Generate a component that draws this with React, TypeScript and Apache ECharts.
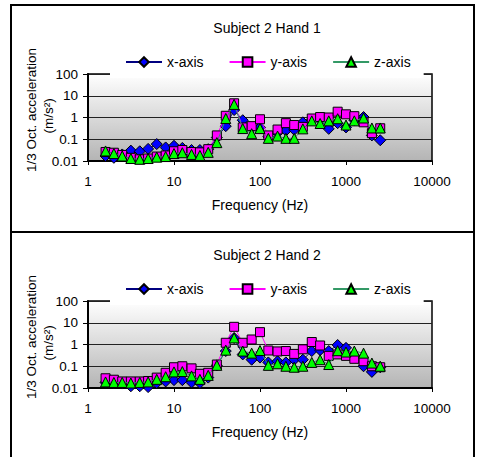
import React, { useEffect, useRef } from "react";
import * as echarts from "echarts";

const freqs = [1.6, 2, 2.5, 3.15, 4, 5, 6.3, 8, 10, 12.5, 16, 20, 25, 31.5, 40, 50, 63, 80, 100, 125, 160, 200, 250, 315, 400, 500, 630, 800, 1000, 1250, 1600, 2000, 2500];

const xTicks = [1, 10, 100, 1000, 10000];
const yTicks = [0.01, 0.1, 1, 10, 100];

const seriesNames = ["x-axis", "y-axis", "z-axis"];
const chartTitles = ["Subject 2 Hand 1", "Subject 2 Hand 2"];

const hand1X = [0.017, 0.014, 0.02, 0.03, 0.028, 0.036, 0.06, 0.042, 0.05, 0.04, 0.032, 0.032, 0.035, 0.12, 0.4, 2.2, 0.75, 0.35, 0.35, 0.13, 0.2, 0.25, 0.27, 0.6, 0.8, 0.8, 0.3, 0.55, 0.35, 0.75, 1.05, 0.15, 0.09];
const hand1Y = [0.026, 0.024, 0.019, 0.014, 0.012, 0.013, 0.016, 0.018, 0.028, 0.032, 0.026, 0.025, 0.035, 0.15, 1.2, 4.5, 0.35, 0.4, 0.83, 0.15, 0.28, 0.55, 0.45, 0.37, 0.9, 1.05, 1.0, 1.85, 1.4, 1.15, 0.6, 0.19, 0.32];
const hand1Z = [0.029, 0.022, 0.017, 0.013, 0.012, 0.013, 0.015, 0.016, 0.022, 0.024, 0.02, 0.018, 0.025, 0.07, 0.9, 4.0, 0.31, 0.18, 0.31, 0.11, 0.14, 0.11, 0.11, 0.3, 0.7, 0.53, 0.7, 0.88, 0.45, 0.7, 0.95, 0.33, 0.33];

const hand2X = [0.018, 0.017, 0.016, 0.012, 0.012, 0.011, 0.017, 0.02, 0.023, 0.023, 0.018, 0.017, 0.03, 0.11, 0.5, 2.0, 0.35, 0.2, 0.25, 0.15, 0.17, 0.15, 0.2, 0.2, 0.5, 0.55, 0.5, 0.95, 0.7, 0.3, 0.1, 0.055, 0.09];
const hand2Y = [0.028, 0.024, 0.02, 0.02, 0.02, 0.021, 0.03, 0.05, 0.09, 0.1, 0.08, 0.045, 0.05, 0.12, 1.2, 6.5, 1.2, 1.7, 3.7, 0.53, 0.48, 0.5, 0.37, 0.6, 1.3, 0.9, 0.3, 0.35, 0.3, 0.22, 0.17, 0.1, 0.09];
const hand2Z = [0.019, 0.018, 0.018, 0.017, 0.018, 0.019, 0.025, 0.033, 0.055, 0.057, 0.036, 0.025, 0.038, 0.11, 0.55, 2.0, 0.5, 0.4, 0.53, 0.11, 0.13, 0.1, 0.09, 0.1, 0.15, 0.2, 0.12, 0.52, 0.45, 0.5, 0.4, 0.14, 0.1];

const FONT = "'Liberation Sans', Arial, sans-serif";

const styles = [
  { symbol: "diamond", size: 11, line: "#000080", fill: "#0000ff" },
  { symbol: "rect", size: 9, line: "#ff00ff", fill: "#ff00ff" },
  { symbol: "triangle", size: 10, line: "#339966", fill: "#00ff00" },
];

const panels = [
  { offset: 0, data: [hand1X, hand1Y, hand1Z] },
  { offset: 227, data: [hand2X, hand2Y, hand2Z] },
];

export default function App() {
  const ref = useRef<HTMLDivElement>(null);
  useEffect(() => {
    if (!ref.current) return;
    const chart = echarts.init(ref.current, null, { renderer: "svg" });

    const grids: any[] = [];
    const xAxes: any[] = [];
    const yAxes: any[] = [];
    const series: any[] = [];
    const legends: any[] = [];
    const graphics: any[] = [];

    panels.forEach((p, gi) => {
      const o = p.offset;
      grids.push({
        left: 88,
        top: 74 + o,
        width: 344,
        height: 87,
        show: true,
        borderColor: "#000",
        borderWidth: 1.5,
        backgroundColor: {
          type: "linear",
          x: 0,
          y: 0,
          x2: 0,
          y2: 1,
          colorStops: [
            { offset: 0, color: "#ffffff" },
            { offset: 1, color: "#b4b4b4" },
          ],
        },
        z: 0,
      });
      xAxes.push({
        type: "log",
        logBase: 10,
        min: xTicks[0],
        max: xTicks[xTicks.length - 1],
        gridIndex: gi,
        name: "Frequency (Hz)",
        nameLocation: "middle",
        nameGap: 37,
        nameTextStyle: { fontSize: 14, color: "#000", fontFamily: FONT },
        axisLine: { show: true, lineStyle: { color: "#000", width: 2 } },
        axisTick: { show: true, inside: false, length: 4, lineStyle: { color: "#000", width: 1 } },
        axisLabel: { fontSize: 13.5, color: "#000", fontFamily: FONT, margin: 13, formatter: (v: number) => String(v) },
        splitLine: { show: false },
        minorTick: { show: false },
      });
      yAxes.push({
        type: "log",
        logBase: 10,
        min: yTicks[0],
        max: yTicks[yTicks.length - 1],
        gridIndex: gi,
        axisLine: { show: true, lineStyle: { color: "#000", width: 2 } },
        axisTick: { show: true, inside: false, length: 5, lineStyle: { color: "#000", width: 1 } },
        axisLabel: {
          fontSize: 13.5,
          color: "#000",
          fontFamily: FONT,
          margin: 10,
          formatter: (v: number) => String(+v.toPrecision(3)),
        },
        splitLine: { show: true, lineStyle: { color: "#222", width: 1 } },
      });
      p.data.forEach((vals, si) => {
        const s = styles[si];
        series.push({
          name: seriesNames[si],
          type: "line",
          xAxisIndex: gi,
          yAxisIndex: gi,
          data: freqs.map((f, i) => [f, vals[i]]),
          symbol: s.symbol,
          symbolSize: s.size,
          showSymbol: true,
          lineStyle: { color: s.line, width: 1 },
          itemStyle: { color: s.fill, borderColor: "#000", borderWidth: 1 },
          z: 2 + si,
        });
      });
      legends.push({
        data: seriesNames,
        left: 110,
        top: 50 + o,
        orient: "horizontal",
        itemWidth: 36,
        itemHeight: 12,
        itemGap: 25,
        padding: [5, 13, 9, 15],
        backgroundColor: "#fff",
        textStyle: { fontSize: 14, color: "#000", fontFamily: FONT },
        selectedMode: false,
        z: 10,
      });
      graphics.push(
        {
          type: "text",
          x: 267,
          y: 28 + o,
          style: { text: chartTitles[gi], fontSize: 14, fontFamily: FONT, fill: "#000", align: "center", verticalAlign: "middle" },
        },
        {
          type: "text",
          x: 31,
          y: 110 + o,
          rotation: Math.PI / 2,
          style: { text: "1/3 Oct. acceleration", fontSize: 13.5, fontFamily: FONT, fill: "#000", align: "center", verticalAlign: "middle" },
        },
        {
          type: "text",
          x: 48,
          y: 116 + o,
          rotation: Math.PI / 2,
          style: { text: "(m/s²)", fontSize: 13.5, fontFamily: FONT, fill: "#000", align: "center", verticalAlign: "middle" },
        }
      );
    });

    graphics.push(
      { type: "rect", shape: { x: 11, y: 5, width: 463, height: 227 }, style: { fill: "none", stroke: "#000", lineWidth: 2 }, z: 20 },
      { type: "rect", shape: { x: 11, y: 232, width: 463, height: 240 }, style: { fill: "none", stroke: "#000", lineWidth: 2 }, z: 20 }
    );

    chart.setOption({
      animation: false,
      backgroundColor: "#fff",
      grid: grids,
      xAxis: xAxes,
      yAxis: yAxes,
      series,
      legend: legends,
      graphic: graphics,
    });
    return () => chart.dispose();
  }, []);
  return <div ref={ref} style={{ position: "absolute", left: 0, top: 0, width: 478, height: 457 }} />;
}
